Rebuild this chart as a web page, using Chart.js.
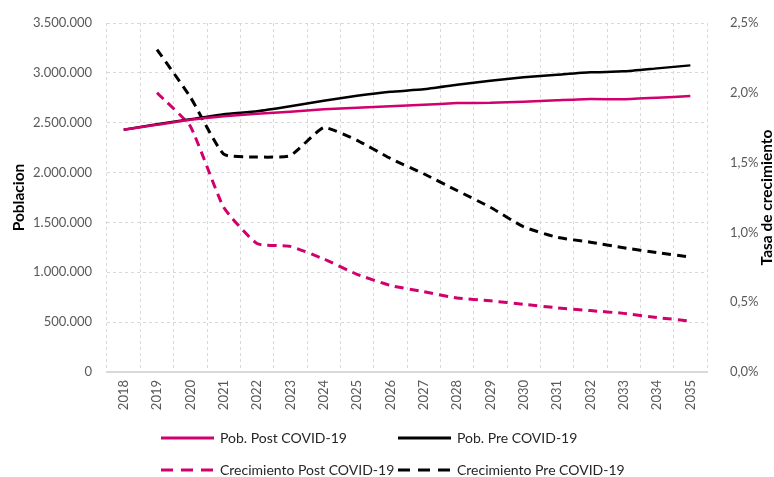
<!DOCTYPE html>
<html>
<head>
<meta charset="utf-8">
<script src="https://cdn.jsdelivr.net/npm/chart.js@4.4.1/dist/chart.umd.min.js"></script>
<style>
  html, body { margin: 0; padding: 0; background: #fff; }
  #wrap { width: 774px; height: 477px; position: relative; }
</style>
</head>
<body>
<div id="wrap"><canvas id="chart"></canvas></div>
<script>
// Data
const years = ['2018', '2019', '2020', '2021', '2022', '2023', '2024', '2025', '2026',
  '2027', '2028', '2029', '2030', '2031', '2032', '2033', '2034', '2035'];
const pobPost = [2430000, 2480000, 2530000, 2565000, 2590000, 2610000, 2635000, 2650000, 2665000,
  2680000, 2697000, 2700000, 2711000, 2725000, 2738000, 2735000, 2750000, 2768000];
const pobPre = [2430000, 2485000, 2535000, 2585000, 2615000, 2665000, 2720000, 2770000, 2810000,
  2835000, 2880000, 2920000, 2955000, 2980000, 3005000, 3015000, 3045000, 3075000];
// growth rates in percent
const crecPost = [null, 2.00, 1.76, 1.18, 0.92, 0.90, 0.81, 0.70, 0.62,
  0.575, 0.53, 0.51, 0.485, 0.46, 0.44, 0.42, 0.39, 0.365];
const crecPre = [null, 2.31, 1.97, 1.56, 1.54, 1.55, 1.75, 1.66, 1.53,
  1.42, 1.30, 1.18, 1.04, 0.965, 0.93, 0.89, 0.855, 0.824];

const leftTitle = 'Poblacion';
const rightTitle = 'Tasa de crecimiento';

// styling
const pink = '#D1006D';
const black = '#000000';
const grid_color = '#D9D9D9';
const tick_color = '#595959';
const font_family = 'Lato, "Open Sans", sans-serif';

function fmt_thousands(v) {
  return String(Math.round(v)).replace(/\B(?=(\d{3})+(?!\d))/g, '.');
}
function fmt_pct(v) {
  return v.toFixed(1).replace('.', ',') + '%';
}

// right axis title (reads bottom to top) and two-column legend
const extrasPlugin = {
  id: 'extras',
  afterDraw(chart) {
    const ctx = chart.ctx;
    const area = chart.chartArea;
    ctx.save();
    ctx.fillStyle = '#000';
    ctx.font = 'bold 15.5px ' + font_family;
    ctx.textAlign = 'center';
    ctx.textBaseline = 'middle';
    ctx.translate(767, (area.top + area.bottom) / 2);
    ctx.rotate(-Math.PI / 2);
    ctx.fillText(rightTitle, 0, 0);
    ctx.restore();

    const cols = [161, 398];
    const rows = [438, 470];
    chart.data.datasets.forEach((ds, i) => {
      const x = cols[i % 2];
      const y = rows[Math.floor(i / 2)];
      ctx.save();
      ctx.strokeStyle = ds.borderColor;
      ctx.lineWidth = 3;
      ctx.setLineDash(ds.borderDash && ds.borderDash.length ? [12, 8] : []);
      ctx.beginPath();
      ctx.moveTo(x, y);
      ctx.lineTo(x + 53, y);
      ctx.stroke();
      ctx.setLineDash([]);
      ctx.fillStyle = '#262626';
      ctx.font = '14px ' + font_family;
      ctx.textAlign = 'left';
      ctx.textBaseline = 'middle';
      ctx.fillText(ds.label, x + 59, y);
      ctx.restore();
    });
  }
};

const canvas = document.getElementById('chart');
const chart = new Chart(canvas, {
  type: 'line',
  data: {
    labels: years,
    datasets: [
      { label: 'Pob. Post COVID-19', data: pobPost, yAxisID: 'y', borderColor: pink, borderWidth: 2.5, tension: 0.15 },
      { label: 'Pob. Pre COVID-19', data: pobPre, yAxisID: 'y', borderColor: black, borderWidth: 2.5, tension: 0.15 },
      { label: 'Crecimiento Post COVID-19', data: crecPost, yAxisID: 'y1', borderColor: pink, borderWidth: 3, borderDash: [9, 6], tension: 0.15 },
      { label: 'Crecimiento Pre COVID-19', data: crecPre, yAxisID: 'y1', borderColor: black, borderWidth: 3, borderDash: [9, 6], tension: 0.15 }
    ]
  },
  options: {
    animation: false,
    responsive: true,
    maintainAspectRatio: false,
    layout: { padding: { top: 23, left: 0, right: 0, bottom: 0 } },
    elements: { point: { radius: 0, hoverRadius: 0 } },
    plugins: {
      legend: { display: false },
      tooltip: { enabled: false }
    },
    scales: {
      x: {
        offset: true,
        grid: { display: true, color: grid_color, lineWidth: 1, drawTicks: false, offset: true },
        border: { display: true, color: grid_color, width: 2, dash: [3, 3] },
        ticks: {
          color: tick_color, font: { family: font_family, size: 13 },
          minRotation: 90, maxRotation: 90, padding: 8, autoSkip: false
        },
        afterFit(scale) { scale.height = 105; }
      },
      y: {
        position: 'left',
        min: 0, max: 3500000,
        grid: { display: true, color: grid_color, lineWidth: 1, drawTicks: false },
        border: { display: false, dash: [3, 3] },
        ticks: {
          stepSize: 500000, color: tick_color, padding: 15,
          font: { family: font_family, size: 13 },
          callback: (v) => fmt_thousands(v)
        },
        title: {
          display: true, text: leftTitle, color: '#000',
          font: { family: font_family, size: 15.5, weight: 'bold' },
          padding: { top: 10, bottom: 0 }
        },
        afterFit(scale) { scale.width = 107; }
      },
      y1: {
        position: 'right',
        min: 0, max: 2.5,
        grid: { display: false },
        border: { display: false },
        ticks: {
          stepSize: 0.5, color: tick_color, padding: 15,
          font: { family: font_family, size: 13 },
          callback: (v) => fmt_pct(v)
        },
        afterFit(scale) { scale.width = 67; }
      }
    }
  },
  plugins: [extrasPlugin]
});
</script>
</body>
</html>
